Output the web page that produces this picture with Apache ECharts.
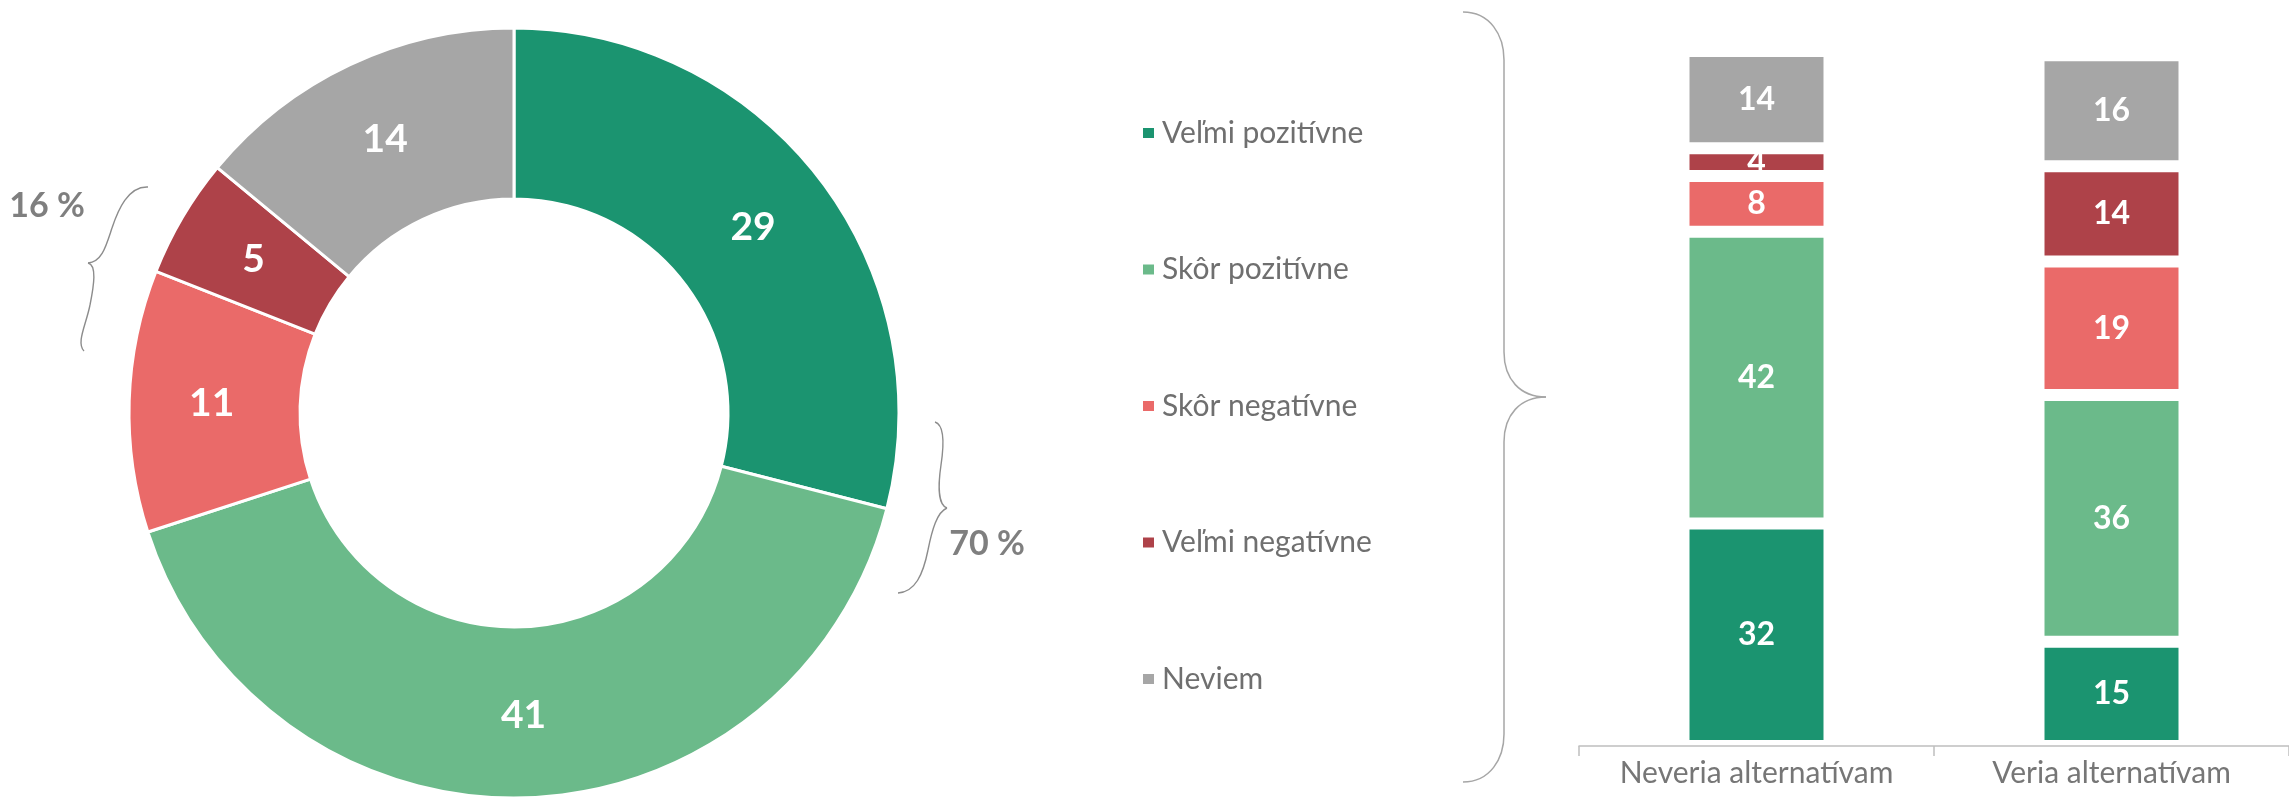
<!DOCTYPE html>
<html>
<head>
<meta charset="utf-8">
<script src="https://cdn.jsdelivr.net/npm/echarts@6/dist/echarts.min.js"></script>
<style>
  html, body { margin: 0; padding: 0; background: #ffffff; }
  #chart { width: 2289px; height: 800px; }
</style>
</head>
<body>
<div id="chart"></div>
<script>
// ---- data ----
const seriesNames = ['Veľmi pozitívne', 'Skôr pozitívne', 'Skôr negatívne', 'Veľmi negatívne', 'Neviem'];
const seriesColors = ['#1B9470', '#6BBA8A', '#EA6A69', '#AE4249', '#A6A6A6'];
const donutValues = [29, 41, 11, 5, 14];
const categories = ['Neveria alternatívam', 'Veria alternatívam'];
const velmiPozitivne = [32, 15.0];
const skorPozitivne = [42, 35.5];
const skorNegativne = [8, 19.2];
const velmiNegativne = [4, 13.7];
const neviem = [14, 16.0];
const braceTexts = ['16 %', '70 %'];

const barValues = [velmiPozitivne, skorPozitivne, skorNegativne, velmiNegativne, neviem];

const FONT = 'Lato';
const chart = echarts.init(document.getElementById('chart'), null, { renderer: 'canvas' });

const pieSeries = {
  type: 'pie',
  center: [514, 413],
  radius: [214, 385],
  startAngle: 90,
  clockwise: true,
  avoidLabelOverlap: false,
  emphasis: { disabled: true },
  itemStyle: { borderColor: '#ffffff', borderWidth: 3 },
  label: {
    show: true, position: 'inside', color: '#ffffff',
    fontFamily: FONT, fontWeight: 'bold', fontSize: 39,
    formatter: p => String(Math.round(p.value))
  },
  labelLine: { show: false },
  data: seriesNames.map((n, i) => ({ name: n, value: donutValues[i], itemStyle: { color: seriesColors[i] } }))
};

const barSeries = seriesNames.map((n, i) => ({
  type: 'bar',
  name: n,
  stack: 'total',
  barWidth: 146,
  emphasis: { disabled: true },
  itemStyle: { color: seriesColors[i], borderColor: '#ffffff', borderWidth: 6 },
  label: {
    show: true, position: 'inside', color: '#ffffff',
    fontFamily: FONT, fontWeight: 'bold', fontSize: 32,
    formatter: p => String(Math.round(p.value))
  },
  data: barValues[i]
}));

// decorative braces (cubic segments: [x1,y1,cpx1,cpy1,cpx2,cpy2,x2,y2])
function curves(segs, style) {
  return segs.map(s => s.length === 8
    ? { type: 'bezierCurve', shape: { x1: s[0], y1: s[1], cpx1: s[2], cpy1: s[3], cpx2: s[4], cpy2: s[5], x2: s[6], y2: s[7] }, style: style }
    : { type: 'line', shape: { x1: s[0], y1: s[1], x2: s[2], y2: s[3] }, style: style });
}
const smallBraceStyle = { stroke: '#8c8c8c', lineWidth: 1.4, fill: null };
const bigBraceStyle = { stroke: '#a6a6a6', lineWidth: 1.5, fill: null };
const brace16 = [
  [148,187, 128,186, 118,210, 112,228],
  [112,228, 106,246, 102,262, 88,263],
  [88,263, 97,265, 94,285, 90,305],
  [90,305, 86,325, 76,343, 84,351]
];
const brace70 = [
  [935,422, 945,425, 944,445, 941,465],
  [941,465, 938,485, 938,505, 947,508],
  [947,508, 937,512, 932,530, 928,550],
  [928,550, 923,575, 915,592, 898,593]
];
const braceBig = [
  [1463,12, 1490,12, 1504,35, 1504,60],
  [1504,60, 1504,352],
  [1504,352, 1504,379, 1520,397, 1546,397],
  [1546,397, 1520,397, 1504,415, 1504,442],
  [1504,442, 1504,734],
  [1504,734, 1504,759, 1490,782, 1463,782]
];

chart.setOption({
  animation: false,
  backgroundColor: '#ffffff',
  legend: {
    orient: 'vertical',
    left: 1136,
    top: 113,
    itemWidth: 13,
    itemHeight: 12,
    itemGap: 106.5,
    icon: 'rect',
    data: seriesNames,
    selectedMode: false,
    textStyle: { fontFamily: FONT, fontSize: 30, color: '#6f6f6f', lineHeight: 30, padding: [0, 0, 0, 2] }
  },
  grid: { left: 1579, width: 728, top: 51, bottom: 54, containLabel: false },
  xAxis: {
    type: 'category',
    data: categories,
    z: 10,
    axisLine: { show: true, lineStyle: { color: '#bfbfbf', width: 1.5 } },
    axisTick: { show: true, length: 10, interval: 0, lineStyle: { color: '#bfbfbf', width: 1.5 } },
    axisLabel: { interval: 0, hideOverlap: false, fontFamily: FONT, fontSize: 30, color: '#767676', margin: 12 }
  },
  yAxis: { type: 'value', min: 0, max: 100, show: false },
  series: [pieSeries].concat(barSeries),
  graphic: curves(brace16, smallBraceStyle)
    .concat(curves(brace70, smallBraceStyle))
    .concat(curves(braceBig, bigBraceStyle))
    .concat([
      { type: 'text', x: 47, y: 206, style: { text: braceTexts[0], fontFamily: FONT, fontWeight: 'bold', fontSize: 34, fill: '#7f7f7f', align: 'center', verticalAlign: 'middle' } },
      { type: 'text', x: 987, y: 544, style: { text: braceTexts[1], fontFamily: FONT, fontWeight: 'bold', fontSize: 34, fill: '#7f7f7f', align: 'center', verticalAlign: 'middle' } }
    ])
});
</script>
</body>
</html>
